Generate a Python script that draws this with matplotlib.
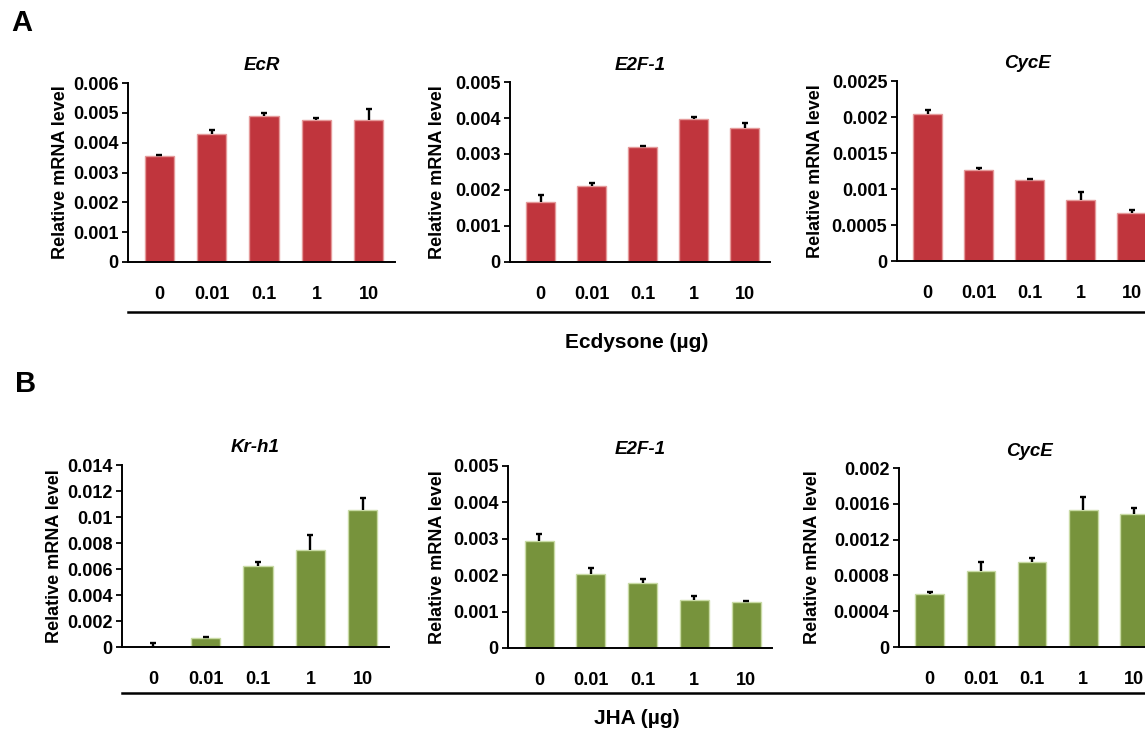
import matplotlib
matplotlib.use("Agg")
import matplotlib.pyplot as plt
from matplotlib.lines import Line2D

plt.rcParams["font.family"] = ["Liberation Sans", "DejaVu Sans"]
plt.rcParams["font.weight"] = "bold"

doses = ["0", "0.01", "0.1", "1", "10"]

# panel A: ecdysone treatment
ecr = [0.00356, 0.00429, 0.00488, 0.00476, 0.00477]
ecr_err = [0.00003, 0.00012, 0.00011, 0.00008, 0.00037]
e2f_a = [0.00167, 0.00212, 0.00319, 0.00397, 0.00373]
e2f_a_err = [0.00018, 0.00007, 0.00003, 0.00007, 0.00013]
cyce_a = [0.00204, 0.001266, 0.00112, 0.00085, 0.00066]
cyce_a_err = [0.00006, 0.00003, 0.00002, 0.00011, 0.00005]

# panel B: JHA treatment
krh1 = [0.00003, 0.00072, 0.00624, 0.00747, 0.01055]
krh1_err = [0.00030, 0.00005, 0.00033, 0.00118, 0.00093]
e2f_b = [0.00294, 0.00203, 0.00179, 0.00133, 0.00126]
e2f_b_err = [0.00020, 0.00017, 0.00011, 0.00010, 0.00004]
cyce_b = [0.000587, 0.000852, 0.00095, 0.001536, 0.001488]
cyce_b_err = [0.00003, 0.00010, 0.00004, 0.00014, 0.00007]

ecr_ticks = ["0", "0.001", "0.002", "0.003", "0.004", "0.005", "0.006"]
e2f_ticks = ["0", "0.001", "0.002", "0.003", "0.004", "0.005"]
cyce_a_ticks = ["0", "0.0005", "0.001", "0.0015", "0.002", "0.0025"]
krh1_ticks = ["0", "0.002", "0.004", "0.006", "0.008", "0.01", "0.012", "0.014"]
cyce_b_ticks = ["0", "0.0004", "0.0008", "0.0012", "0.0016", "0.002"]

RED = "#C0353D"
RED_EDGE = "#E59A9A"
GREEN = "#77933C"
GREEN_EDGE = "#C9DBA5"

W, H = 1145, 735


def box(left, right, top, bottom):
    return [left / W, 1 - bottom / H, (right - left) / W, (bottom - top) / H]


def panel(fig, rect, title, values, errors, ticks, color, edge):
    ax = fig.add_axes(rect)
    x = list(range(len(doses)))
    tops = [v + e for v, e in zip(values, errors)]
    ax.bar(x, values, width=0.56, color=color, edgecolor=edge, linewidth=1.0, zorder=2)
    # upper-only error bars with a single cap
    ax.vlines(x, values, tops, color="black", lw=1.7, zorder=3)
    ax.plot(x, tops, ls="none", marker="_", ms=5, mew=1.7, color="black", zorder=3)
    tick_vals = [float(t) for t in ticks]
    ax.set_ylim(0, tick_vals[-1])
    ax.set_yticks(tick_vals)
    ax.set_yticklabels(ticks, fontsize=13, fontweight="bold")
    ax.set_xlim(-0.6, 4.5)
    ax.set_xticks(x)
    ax.set_xticklabels(doses, fontsize=13, fontweight="bold")
    ax.tick_params(axis="x", length=0, pad=17)
    ax.tick_params(axis="y", length=4, width=1.3, pad=3, direction="out")
    for s in ["top", "right"]:
        ax.spines[s].set_visible(False)
    for s in ["left", "bottom"]:
        ax.spines[s].set_linewidth(1.4)
    ax.set_title(title, fontsize=13.5, fontweight="bold", style="italic", pad=9)
    ax.set_ylabel("Relative mRNA level", fontsize=13, fontweight="bold")
    return ax


fig = plt.figure(figsize=(W / 100, H / 100), dpi=100)

axes_a = [
    panel(fig, box(128, 395, 83, 262), "EcR", ecr, ecr_err, ecr_ticks, RED, RED_EDGE),
    panel(fig, box(510, 770, 82, 262), "E2F-1", e2f_a, e2f_a_err, e2f_ticks, RED, RED_EDGE),
    panel(fig, box(897, 1157, 81, 261), "CycE", cyce_a, cyce_a_err, cyce_a_ticks, RED, RED_EDGE),
]
axes_b = [
    panel(fig, box(122, 389, 465, 647), "Kr-h1", krh1, krh1_err, krh1_ticks, GREEN, GREEN_EDGE),
    panel(fig, box(508, 772, 466, 648), "E2F-1", e2f_b, e2f_b_err, e2f_ticks, GREEN, GREEN_EDGE),
    panel(fig, box(899, 1160, 468, 647), "CycE", cyce_b, cyce_b_err, cyce_b_ticks, GREEN, GREEN_EDGE),
]

# put the y labels where the reference has them
label_x = [69, 446, 824]
for ax, lx in zip(axes_a, label_x):
    bb = ax.get_position()
    ax.yaxis.set_label_coords((lx / W - bb.x0) / bb.width, 0.5)
label_x_b = [63, 446, 821]
for ax, lx in zip(axes_b, label_x_b):
    bb = ax.get_position()
    ax.yaxis.set_label_coords((lx / W - bb.x0) / bb.width, 0.5)

fig.add_artist(Line2D([128 / W, 1.0], [1 - 312 / H] * 2, color="black", lw=1.8))
fig.add_artist(Line2D([122 / W, 1.0], [1 - 693 / H] * 2, color="black", lw=1.8))

fig.text(637 / W, 1 - 343 / H, "Ecdysone (µg)", fontsize=15, fontweight="bold",
         ha="center", va="center")
fig.text(637 / W, 1 - 718 / H, "JHA (µg)", fontsize=15, fontweight="bold",
         ha="center", va="center")

fig.text(11 / W, 1 - 23 / H, "A", fontsize=21, fontweight="bold", ha="left", va="center")
fig.text(15 / W, 1 - 384 / H, "B", fontsize=21, fontweight="bold", ha="left", va="center")

fig.savefig("out.png", dpi=100)
